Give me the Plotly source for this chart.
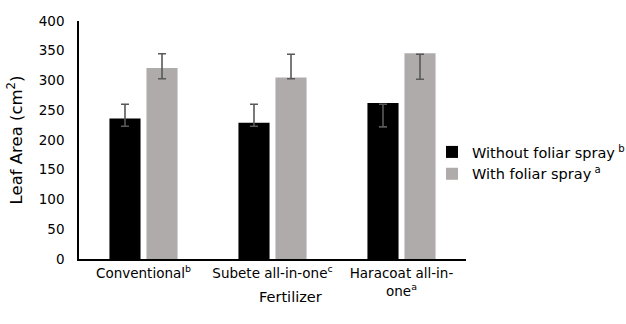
import plotly.graph_objects as go

categories = ["Conventional<sup>b</sup>", "Subete all-in-one<sup>c</sup>", "Haracoat all-in-<br>one<sup>a</sup>"]
without_vals = [236, 229, 262]
without_err_low = [223, 223, 222]
without_err_high = [260, 260, 260]
with_vals = [321, 305, 346]
with_err_low = [303, 303, 302]
with_err_high = [345, 344, 344]
y_ticks = [0, 50, 100, 150, 200, 250, 300, 350, 400]

font = "DejaVu Sans"

def err(vals, lo, hi):
    return dict(type="data", symmetric=False,
                array=[h - v for v, h in zip(vals, hi)],
                arrayminus=[v - l for v, l in zip(vals, lo)],
                color="#595959", thickness=1.6, width=4)

fig = go.Figure()
fig.add_trace(go.Bar(x=categories, y=without_vals, name="Without foliar spray<sup> b</sup>",
                     marker=dict(color="#000000", line=dict(width=0)),
                     error_y=err(without_vals, without_err_low, without_err_high)))
fig.add_trace(go.Bar(x=categories, y=with_vals, name="With foliar spray<sup> a</sup>",
                     marker=dict(color="#AFABAB", line=dict(width=0)),
                     error_y=err(with_vals, with_err_low, with_err_high)))

fig.update_layout(
    width=626, height=324,
    margin=dict(l=79, r=160, t=21, b=65, autoexpand=False),
    paper_bgcolor="white", plot_bgcolor="white",
    barmode="group", bargap=0.426, bargroupgap=0.16,
    font=dict(family=font, size=13.5, color="#000000"),
    showlegend=True,
    legend=dict(x=432 / 626, y=1 - 163 / 324, xanchor="left", yanchor="middle",
                xref="container", yref="container",
                font=dict(size=14.5, color="#000000"), itemwidth=30, tracegroupgap=0,
                bgcolor="rgba(0,0,0,0)", borderwidth=0),
    xaxis=dict(showline=True, linecolor="#000000", linewidth=1.5, ticks="",
               tickfont=dict(size=13.5), ticklabelstandoff=1),
    yaxis=dict(range=[0, 400], tickvals=y_ticks, showline=True, linecolor="#000000",
               linewidth=1.5, showgrid=False, zeroline=False, ticks="",
               ticklabelstandoff=10,
               title=dict(text="Leaf Area (cm<sup>2</sup>)", font=dict(size=16.5), standoff=12),
               tickfont=dict(size=13.5)),
    annotations=[dict(text="Fertilizer", xref="paper", yref="paper",
                      x=(290 - 79) / 387, y=-(297 - 259) / 238, xanchor="center", yanchor="middle",
                      showarrow=False, font=dict(size=14.5))],
)

fig.write_html("out.html")
